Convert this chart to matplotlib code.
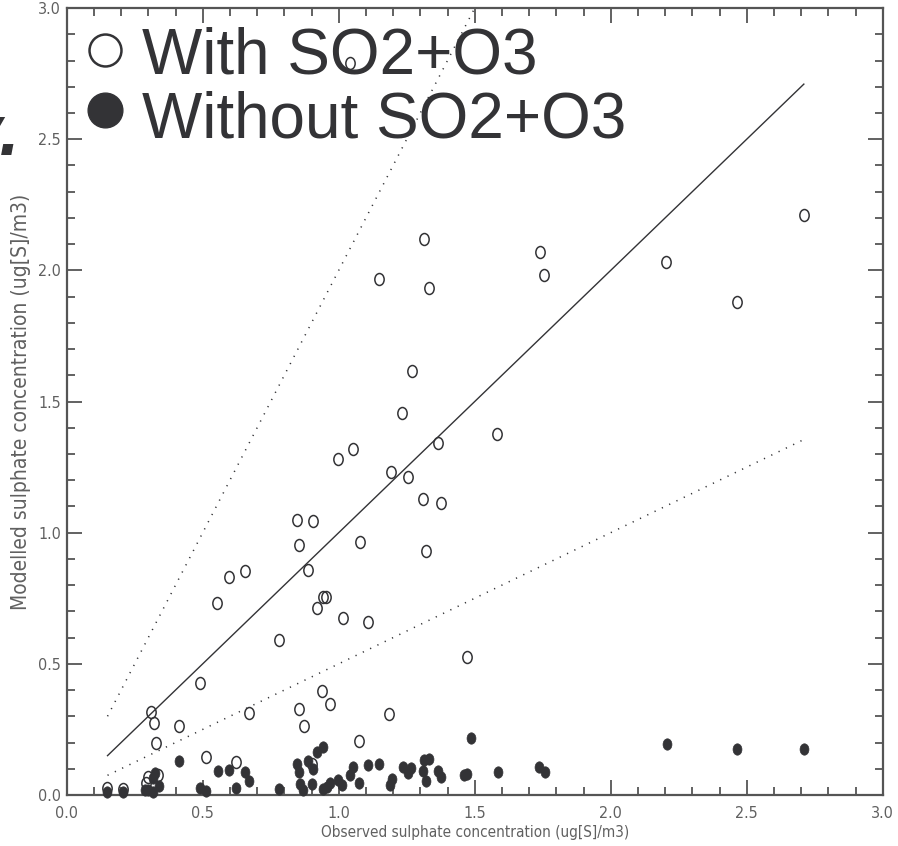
import matplotlib
matplotlib.use("Agg")
import matplotlib.pyplot as plt
from matplotlib.path import Path
from matplotlib.markers import MarkerStyle
from matplotlib.ticker import MultipleLocator, FormatStrFormatter
import numpy as np

# Stations: observed vs modelled sulphate, run with SO2+O3 chemistry
obs_with = [1.042, 1.313, 1.739, 1.756, 1.149, 1.333, 2.204, 2.465, 2.711, 1.268,
            1.234, 1.583, 1.365, 1.051, 0.997, 1.193, 1.255, 1.311, 1.375, 0.847,
            0.906, 0.855, 1.077, 1.320, 0.886, 0.943, 0.953, 0.920, 1.015, 1.109,
            0.782, 1.472, 0.656, 0.598, 0.554, 0.491, 0.940, 0.968, 0.855, 0.871,
            0.670, 0.309, 0.320, 0.413, 0.328, 1.073, 1.186, 0.512, 0.621, 0.902,
            0.149, 0.207, 0.300, 0.337, 0.290]
mod_with = [2.790, 2.120, 2.069, 1.982, 1.966, 1.931, 2.032, 1.880, 2.211, 1.616,
            1.455, 1.375, 1.341, 1.320, 1.280, 1.233, 1.214, 1.130, 1.112, 1.047,
            1.043, 0.954, 0.963, 0.930, 0.857, 0.754, 0.754, 0.712, 0.674, 0.658,
            0.591, 0.525, 0.855, 0.830, 0.731, 0.428, 0.397, 0.347, 0.329, 0.264,
            0.314, 0.316, 0.276, 0.264, 0.199, 0.207, 0.309, 0.144, 0.127, 0.120,
            0.025, 0.021, 0.069, 0.076, 0.045]

# Same stations, run without SO2+O3 chemistry
obs_without = [0.149, 0.207, 0.325, 0.318, 0.339, 0.300, 0.318, 0.288, 0.414, 0.555,
               0.598, 0.657, 0.671, 0.491, 0.512, 0.622, 0.782, 1.486, 0.941, 0.921,
               0.886, 0.848, 0.855, 0.906, 1.051, 1.040, 1.109, 1.149, 1.235, 1.266,
               1.255, 1.315, 1.332, 1.311, 1.321, 1.366, 1.376, 1.460, 1.473, 0.858,
               0.870, 0.902, 0.943, 0.956, 0.968, 0.999, 1.013, 1.076, 1.189, 1.195,
               1.584, 1.738, 1.757, 2.206, 2.465, 2.712]
mod_without = [0.013, 0.013, 0.083, 0.064, 0.034, 0.019, 0.013, 0.019, 0.130, 0.093,
               0.097, 0.089, 0.055, 0.026, 0.015, 0.026, 0.023, 0.218, 0.184, 0.163,
               0.130, 0.118, 0.086, 0.098, 0.106, 0.076, 0.114, 0.117, 0.107, 0.101,
               0.083, 0.133, 0.137, 0.093, 0.053, 0.091, 0.067, 0.077, 0.081, 0.041,
               0.019, 0.041, 0.022, 0.032, 0.045, 0.057, 0.038, 0.045, 0.038, 0.060,
               0.086, 0.108, 0.089, 0.194, 0.175, 0.174]

# Observed range used for the 1:1, 2:1 and 1:2 reference lines
obs_range = [0.15, 2.71]
ratios = [1.0, 2.0, 0.5]

legend_labels = ["With SO2+O3", "Without SO2+O3"]
xlabel = "Observed sulphate concentration (ug[S]/m3)"
ylabel = "Modelled sulphate concentration (ug[S]/m3)"

INK = "#333336"
GREY = "#555555"
LABEL = "#606060"
thin = dict(family="DejaVu Sans", fontstretch="condensed")

# slightly tall elliptical symbol
circ = Path.unit_circle()
oval = Path(circ.vertices * np.array([0.78, 1.0]), circ.codes)

fig = plt.figure(figsize=(8.98, 8.46), dpi=100)
ax = fig.add_axes([0.0743, 0.0603, 0.9087, 0.9302])
ax.set_xlim(0, 3)
ax.set_ylim(0, 3)

xr = np.array(obs_range)
ax.plot(xr, ratios[0] * xr, color=INK, lw=1.0, zorder=2)
ax.plot(xr, ratios[1] * xr, color=INK, lw=1.1, ls=(0, (0.8, 4.5)), zorder=2)
ax.plot(xr, ratios[2] * xr, color=INK, lw=1.1, ls=(0, (0.8, 4.5)), zorder=2)

ax.plot(obs_with, mod_with, ls="none", marker=MarkerStyle(oval), ms=8.6,
        mfc="none", mec=INK, mew=1.1, clip_on=False, zorder=3)
ax.plot(obs_without, mod_without, ls="none", marker=MarkerStyle(oval), ms=8.2,
        mfc=INK, mec=INK, mew=0.5, clip_on=False, zorder=4)

ax.xaxis.set_major_locator(MultipleLocator(0.5))
ax.xaxis.set_minor_locator(MultipleLocator(0.1))
ax.yaxis.set_major_locator(MultipleLocator(0.5))
ax.yaxis.set_minor_locator(MultipleLocator(0.1))
ax.xaxis.set_major_formatter(FormatStrFormatter("%.1f"))
ax.yaxis.set_major_formatter(FormatStrFormatter("%.1f"))
ax.tick_params(which="both", direction="in", top=True, right=True,
               color=GREY, width=1.3)
ax.tick_params(which="major", length=11, labelsize=11.5, labelcolor=LABEL)
ax.tick_params(which="minor", length=5.5)
ax.tick_params(axis="x", which="major", pad=8)
ax.tick_params(axis="y", which="major", pad=4)
for lab in ax.get_xticklabels() + ax.get_yticklabels():
    lab.set_family(thin["family"])
    lab.set_stretch(thin["fontstretch"])
for sp in ax.spines.values():
    sp.set_color(GREY)
    sp.set_linewidth(1.6)

ax.set_xlabel(xlabel, fontsize=11, color=LABEL, labelpad=3, **thin)
ax.set_ylabel(ylabel, fontsize=15, color=LABEL, labelpad=5, **thin)

# Legend: large symbols and labels in the upper left corner
big = ["Liberation Sans", "DejaVu Sans"]
fig.text(142 / 898, 1 - 73 / 846, legend_labels[0], family=big, fontsize=46,
         color=INK, va="baseline", ha="left", zorder=10)
fig.text(142 / 898, 1 - 137 / 846, legend_labels[1], family=big, fontsize=46,
         color=INK, va="baseline", ha="left", zorder=10)
ax.plot([105 / 898], [1 - 50 / 846], transform=fig.transFigure, marker="o",
        ms=23, mfc="none", mec=INK, mew=1.8, clip_on=False, zorder=10)
ax.plot([105 / 898], [1 - 110 / 846], transform=fig.transFigure, marker="o",
        ms=25, mfc=INK, mec=INK, clip_on=False, zorder=10)

# Tail of a heading that runs off the left edge
fig.text(-0.042, 1 - 155 / 846, "y.", family=big, fontsize=52, style="italic",
         fontweight="bold", color=INK, va="baseline", ha="left")

fig.savefig("out.png", dpi=100)
